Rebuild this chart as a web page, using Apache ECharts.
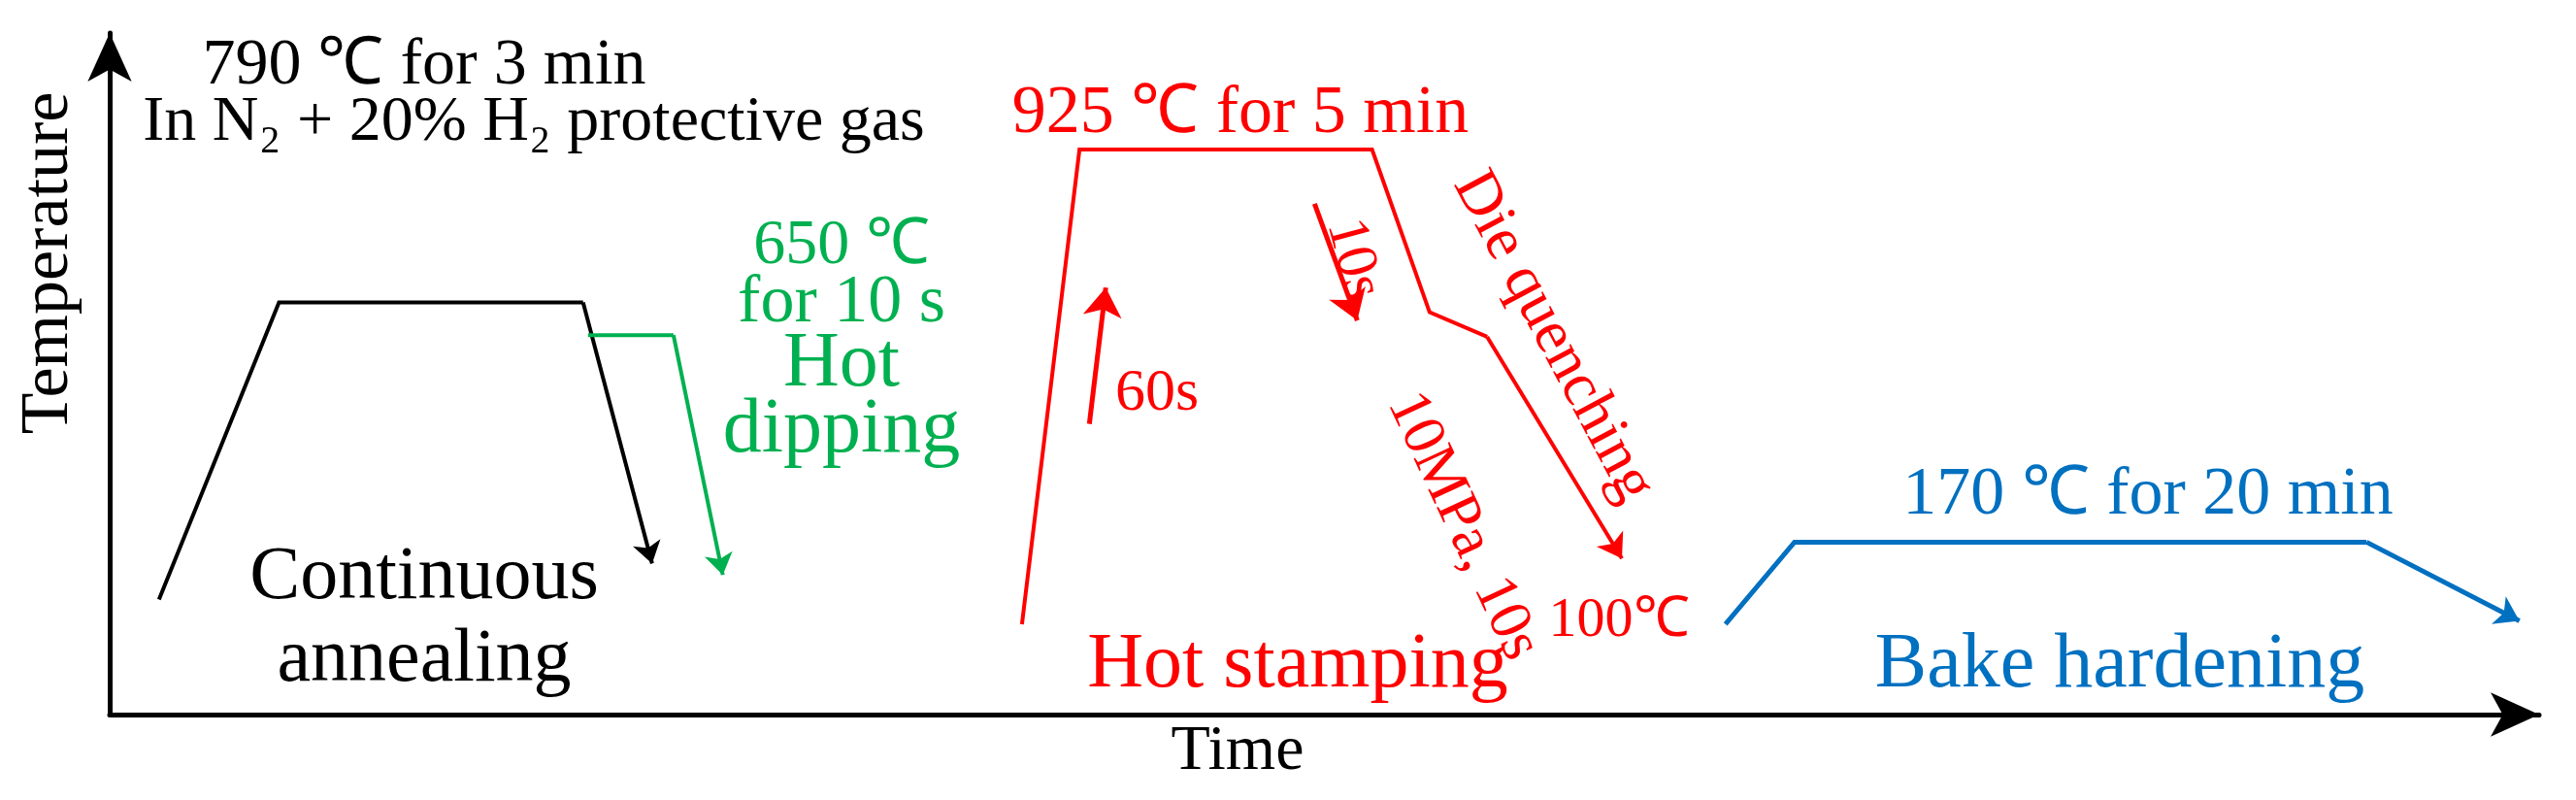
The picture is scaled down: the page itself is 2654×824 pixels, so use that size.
<!DOCTYPE html>
<html>
<head>
<meta charset="utf-8">
<script src="https://cdn.jsdelivr.net/npm/echarts@6/dist/echarts.min.js"></script>
<style>html,body{margin:0;padding:0;background:#fff}#c{width:2654px;height:824px}</style>
</head>
<body>
<div id="c"></div>
<script>
// process paths, in time / temperature units
let annealT = [30, 103, 288, 330];
let annealY = [70, 251, 251, 92];
let dipT = [291, 343, 373];
let dipY = [231, 231, 85];
let stampT = [555, 590, 768, 803, 838, 920];
let stampY = [55, 344, 344, 245, 230, 95];
let heatArrowT = [596, 606];
let heatArrowY = [177, 260];
let coolArrowT = [733, 759];
let coolArrowY = [311, 240];
let bakeT = [983, 1025, 1373, 1466];
let bakeY = [55, 105, 105, 57];

function pts(xs, ys){ return xs.map((x, i) => [x, ys[i]]); }

let font = '"Liberation Serif", serif';
function txt(x, y, s, color, size, rot){
	return {type:'text', x:x, y:y, rotation:(rot||0)*Math.PI/180,
		style:{text:s, fill:color, font:size+'px '+font, align:'center', verticalAlign:'middle'}};
}

var chart = echarts.init(document.getElementById('c'));
// body of the path without arrow, last leg with arrow head
function path(xs, ys, color, w, arrow){
	let p = pts(xs, ys);
	let out = [];
	if (p.length > 2) {
		out.push({type:'lines', coordinateSystem:'cartesian2d', polyline:true, symbol:'none',
			lineStyle:{color:color, width:w, opacity:1}, data:[{coords:p.slice(0, p.length - 1)}]});
	}
	out.push({type:'lines', coordinateSystem:'cartesian2d', symbol:['none','arrow'], symbolSize:arrow,
		lineStyle:{color:color, width:w, opacity:1, curveness:0}, data:[{coords:p.slice(p.length - 2)}]});
	return out;
}
var option = {
	animation:false,
	grid:{left:113, right:38, top:34, bottom:88},
	xAxis:{type:'value', min:0, max:1478, splitLine:{show:false}, axisTick:{show:false}, axisLabel:{show:false},
		axisLine:{lineStyle:{color:'#000', width:5}, symbol:['none','arrow'], symbolSize:[34,50]}},
	yAxis:{type:'value', min:0, max:415, splitLine:{show:false}, axisTick:{show:false}, axisLabel:{show:false},
		axisLine:{lineStyle:{color:'#000', width:5}, symbol:['none','arrow'], symbolSize:[34,50]}},
	series:[].concat(
		path(annealT, annealY, '#000', 4, 22),
		path(dipT, dipY, '#00b050', 4, 22),
		path(stampT, stampY, '#ff0000', 4, 24),
		path(heatArrowT, heatArrowY, '#ff0000', 5, 30),
		path(coolArrowT, coolArrowY, '#ff0000', 5, 30),
		path(bakeT, bakeY, '#0070c0', 5, 24)
	),
	graphic:[
		txt(51, 271, 'Temperature', '#000', 70, 90),
		txt(1275, 775, 'Time', '#000', 66),
		txt(437, 68, '790 ℃ for 3 min', '#000', 68),
		txt(550, 127, 'In N₂ + 20% H₂ protective gas', '#000', 66),
		txt(867, 254, '650 ℃', '#00b050', 66),
		txt(867, 313, 'for 10 s', '#00b050', 70),
		txt(867, 376, 'Hot', '#00b050', 80),
		txt(867, 444, 'dipping', '#00b050', 80),
		txt(437, 596, 'Continuous', '#000', 78),
		txt(437, 681, 'annealing', '#000', 78),
		txt(1278, 118, '925 ℃ for 5 min', '#ff0000', 70),
		txt(1192, 406, '60s', '#ff0000', 62),
		txt(1394, 267, '10s', '#ff0000', 60, -75),
		txt(1600, 347, 'Die quenching', '#ff0000', 64, -62),
		txt(1507, 542, '10MPa, 10s', '#ff0000', 62, -65),
		txt(1668, 640, '100℃', '#ff0000', 58),
		txt(1337, 686, 'Hot stamping', '#ff0000', 80),
		txt(2213, 511, '170 ℃ for 20 min', '#0070c0', 70),
		txt(2184, 686, 'Bake hardening', '#0070c0', 80)
	]
};
chart.setOption(option);
</script>
</body>
</html>
